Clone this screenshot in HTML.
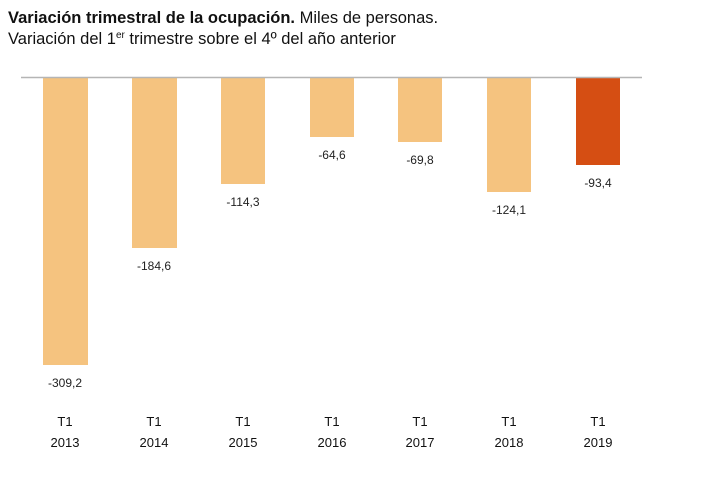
<!DOCTYPE html>
<html><head><meta charset="utf-8"><style>
html,body{margin:0;padding:0;background:#fff;}
</style></head><body>
<svg width="720" height="483" xmlns="http://www.w3.org/2000/svg" style="display:block">
<text x="8" y="23" font-family="Liberation Sans, sans-serif" font-size="16.5" fill="#111"><tspan font-weight="bold">Variación trimestral de la ocupación.</tspan> Miles de personas.</text>
<text x="8" y="44" font-family="Liberation Sans, sans-serif" font-size="16.5" fill="#111">Variación del 1<tspan font-size="10" dy="-6">er</tspan><tspan dy="6"> trimestre sobre el 4º del año anterior</tspan></text>
<g fill="#F5C37F">
<rect x="43" y="78" width="45" height="287"/>
<rect x="132" y="78" width="45" height="170"/>
<rect x="221" y="78" width="44" height="106"/>
<rect x="310" y="78" width="44" height="59"/>
<rect x="398" y="78" width="44" height="64"/>
<rect x="487" y="78" width="44" height="114"/>
</g>
<rect x="576" y="78" width="44" height="87" fill="#D54E13"/>
<line x1="21" y1="77.5" x2="642" y2="77.5" stroke="#b5b5b5" stroke-width="1.5"/>
<g font-family="Liberation Sans, sans-serif" font-size="12" fill="#222" text-anchor="middle">
<text x="65" y="387">-309,2</text>
<text x="154" y="270">-184,6</text>
<text x="243" y="206">-114,3</text>
<text x="332" y="159">-64,6</text>
<text x="420" y="164">-69,8</text>
<text x="509" y="214">-124,1</text>
<text x="598" y="187">-93,4</text>
</g>
<g font-family="Liberation Sans, sans-serif" font-size="13" fill="#111" text-anchor="middle">
<text x="65" y="426">T1</text><text x="65" y="447">2013</text>
<text x="154" y="426">T1</text><text x="154" y="447">2014</text>
<text x="243" y="426">T1</text><text x="243" y="447">2015</text>
<text x="332" y="426">T1</text><text x="332" y="447">2016</text>
<text x="420" y="426">T1</text><text x="420" y="447">2017</text>
<text x="509" y="426">T1</text><text x="509" y="447">2018</text>
<text x="598" y="426">T1</text><text x="598" y="447">2019</text>
</g>
</svg>
</body></html>
